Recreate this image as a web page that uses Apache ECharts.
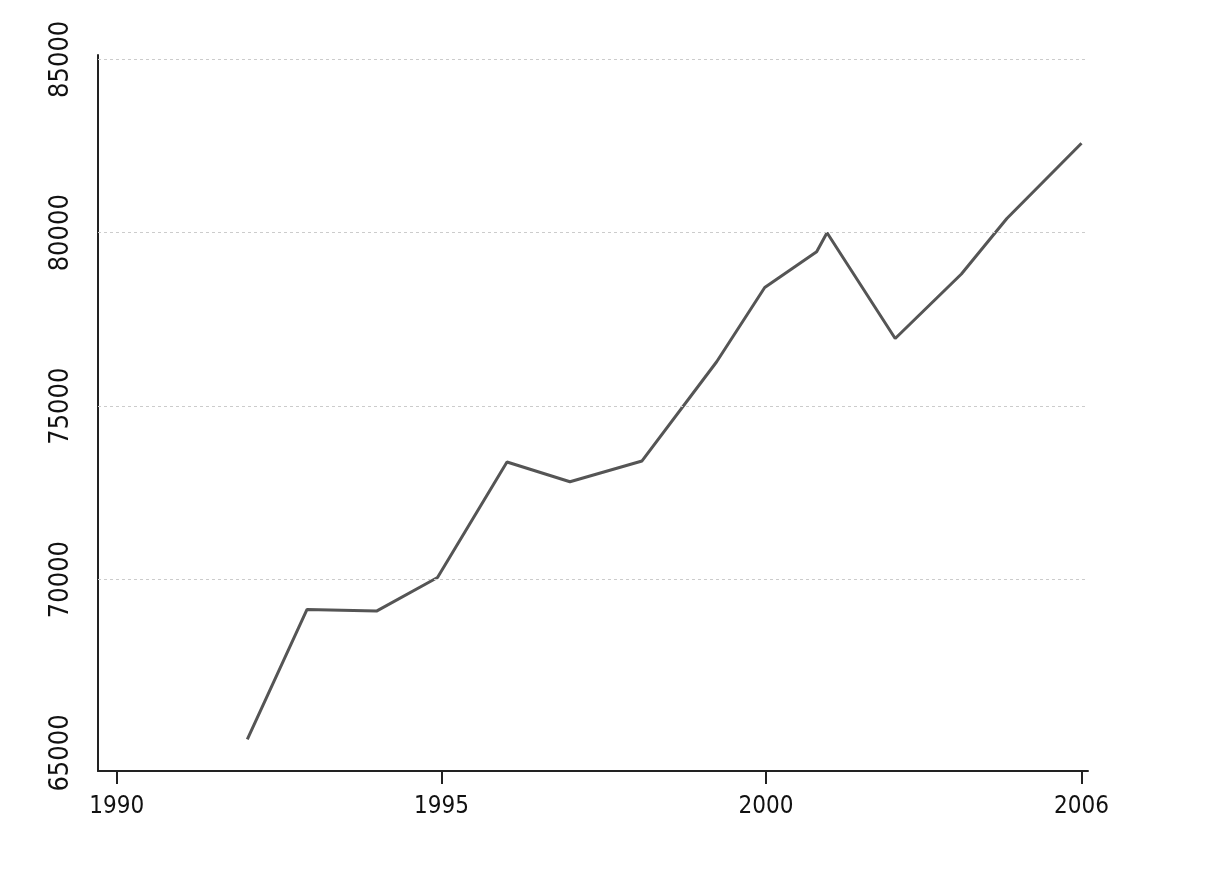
<!DOCTYPE html>
<html>
<head>
<meta charset="utf-8">
<title>Line chart</title>
<script src="https://cdn.jsdelivr.net/npm/echarts@6/dist/echarts.min.js"></script>
<style>
  html, body { margin: 0; padding: 0; background: #fff; }
  #main { width: 1208px; height: 896px; }
</style>
</head>
<body>
<div id="main"></div>
<script>
// x positions (fractional years)
var years = [1992.01, 1992.93, 1994.00, 1994.94, 1996.01, 1996.98, 1998.09, 1999.24,
             1999.98, 2000.78, 2000.94, 2001.99, 2003.01, 2003.71, 2004.86];
var values = [65390, 69140, 69090, 70060, 73390, 72820, 73420, 76280,
              78420, 79450, 80000, 76950, 78810, 80410, 82580];

// tick labels (the last label sits where the line ends)
var xTickPos = [1990, 1995, 2000, 2004.86];
var xTickLabels = ['1990', '1995', '2000', '2006'];
var yTickPos = [65000, 70000, 75000, 80000, 85000];
// dashed grid lines (none drawn at 65000)
var yGridLines = [70000, 75000, 80000, 85000];

var fontFamily = '"DejaVu Sans Condensed", "DejaVu Sans", sans-serif';

var chart = echarts.init(document.getElementById('main'));

var points = years.map(function (y, i) { return [y, values[i]]; });

var option = {
	animation: false,
	backgroundColor: '#ffffff',
	grid: {
		left: 98,
		right: 120,
		top: 55,
		bottom: 125,
		containLabel: false
	},
	xAxis: {
		type: 'value',
		min: 1989.71,
		max: 2004.96,
		axisLine: {
			show: true,
			onZero: false,
			lineStyle: { color: '#222', width: 2 }
		},
		axisTick: {
			show: true,
			length: 13,
			customValues: xTickPos,
			lineStyle: { color: '#222', width: 2 }
		},
		axisLabel: {
			customValues: xTickPos,
			margin: 24,
			color: '#111',
			fontSize: 24,
			fontFamily: fontFamily,
			formatter: function (v) {
				var i = xTickPos.indexOf(v);
				return i >= 0 ? xTickLabels[i] : '';
			}
		},
		splitLine: { show: false }
	},
	yAxis: {
		type: 'value',
		min: 64480,
		max: 85125,
		axisLine: {
			show: true,
			onZero: false,
			lineStyle: { color: '#222', width: 2 }
		},
		axisTick: {
			show: false,
			customValues: yTickPos
		},
		axisLabel: {
			customValues: yTickPos,
			rotate: 90,
			margin: 24,
			color: '#111',
			fontSize: 27,
			fontFamily: fontFamily,
			formatter: function (v) { return String(v); }
		},
		splitLine: { show: false }
	},
	series: [{
		type: 'line',
		data: points,
		showSymbol: false,
		lineStyle: { color: '#555555', width: 3 },
		itemStyle: { color: '#555555' },
		markLine: {
			silent: true,
			symbol: ['none', 'none'],
			label: { show: false },
			lineStyle: { color: '#cccccc', width: 1, type: [3, 3] },
			data: yGridLines.map(function (v) { return { yAxis: v }; })
		}
	}]
};

chart.setOption(option);
</script>
</body>
</html>
